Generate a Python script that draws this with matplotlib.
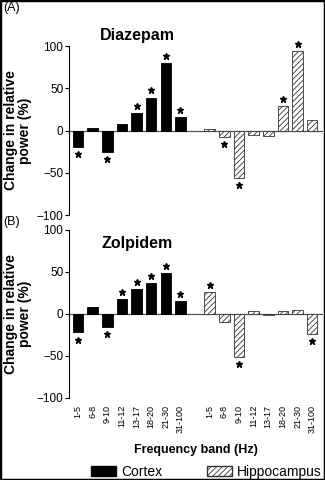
import matplotlib.pyplot as plt
import matplotlib.patches as mpatches
import numpy as np

plt.rcParams['font.family'] = ['Liberation Sans', 'DejaVu Sans']
plt.rcParams['hatch.linewidth'] = 0.6

bands = ['1-5', '6-8', '9-10', '11-12', '13-17', '18-20', '21-30', '31-100']

# Diazepam
dia_cortex = [-19, 3, -25, 8, 21, 39, 80, 16]
dia_hippo = [1.5, -8, -56, -5, -7, 29, 94, 13]
dia_cortex_sig = [-1, 0, -1, 0, 1, 1, 1, 1]   # 1 above, -1 below, 0 none
dia_hippo_sig = [0, -1, -1, 0, 0, 1, 1, 0]

# Zolpidem
zol_cortex = [-22, 8, -15, 18, 30, 37, 49, 15]
zol_hippo = [26, -10, -51, 3, -1, 3, 5, -24]
zol_cortex_sig = [-1, 0, -1, 1, 1, 1, 1, 1]
zol_hippo_sig = [1, 0, -1, 0, 0, 0, 0, -1]

x_cortex = np.arange(8)
x_hippo = np.arange(8) + 9

fig = plt.figure(figsize=(3.25, 4.8), dpi=100)
ax_a = fig.add_axes([0.212, 0.552, 0.782, 0.352])
ax_b = fig.add_axes([0.212, 0.171, 0.782, 0.350])


def draw_panel(ax, cortex, hippo, csig, hsig, title, title_y):
    ax.bar(x_cortex, cortex, width=0.72, color='black', edgecolor='black', linewidth=0.6)
    ax.bar(x_hippo, hippo, width=0.72, color='white', edgecolor='#333333',
           linewidth=0.6, hatch='//////')
    for xs, vals, sig in [(x_cortex, cortex, csig), (x_hippo, hippo, hsig)]:
        for xi, v, s in zip(xs, vals, sig):
            if s == 0:
                continue
            y = v + 8.5 if s > 0 else v - 8.5
            ax.plot(xi, y, marker='*', color='black', markersize=5, linestyle='none',
                    clip_on=False)
    ax.axhline(0, color='#555555', linewidth=0.9, zorder=0)
    ax.set_xlim(-0.62, 16.74)
    ax.set_ylim(-100, 100)
    ax.set_yticks([-100, -50, 0, 50, 100])
    ax.tick_params(axis='y', labelsize=8.5, length=3, width=0.8, pad=1)
    for side in ['top', 'right', 'bottom']:
        ax.spines[side].set_visible(False)
    ax.spines['left'].set_linewidth(0.8)
    ax.set_ylabel('Change in relative\npower (%)', fontsize=10, fontweight='bold',
                  linespacing=1.0, labelpad=3)
    ax.text(0.27, title_y, title, transform=ax.transAxes, fontsize=11.5,
            fontweight='bold', ha='center', va='center')


draw_panel(ax_a, dia_cortex, dia_hippo, dia_cortex_sig, dia_hippo_sig, 'Diazepam', 1.065)
draw_panel(ax_b, zol_cortex, zol_hippo, zol_cortex_sig, zol_hippo_sig, 'Zolpidem', 0.92)

ax_a.set_xticks([])
ax_b.set_xticks(list(x_cortex) + list(x_hippo))
ax_b.set_xticklabels(bands + bands, rotation=90, fontsize=6.5)
ax_b.tick_params(axis='x', length=0, pad=5)
ax_b.set_xlabel('Frequency band (Hz)', fontsize=9, fontweight='bold', labelpad=8)

fig.text(0.01, 0.983, '(A)', fontsize=9, va='center')
fig.text(0.01, 0.537, '(B)', fontsize=9, va='center')

handles = [mpatches.Patch(facecolor='black', edgecolor='black', label='Cortex'),
           mpatches.Patch(facecolor='white', edgecolor='#333333', hatch='//////',
                          label='Hippocampus')]
fig.legend(handles=handles, loc='center', bbox_to_anchor=(0.635, 0.017), ncol=2,
           frameon=False, fontsize=10, handlelength=1.8, handleheight=0.8,
           columnspacing=3.2, handletextpad=0.4, borderpad=0)

fig.patches.append(mpatches.Rectangle((0, 0), 1, 1, transform=fig.transFigure,
                                      fill=False, edgecolor='black', linewidth=2.5))

fig.savefig('out.png', dpi=100)
